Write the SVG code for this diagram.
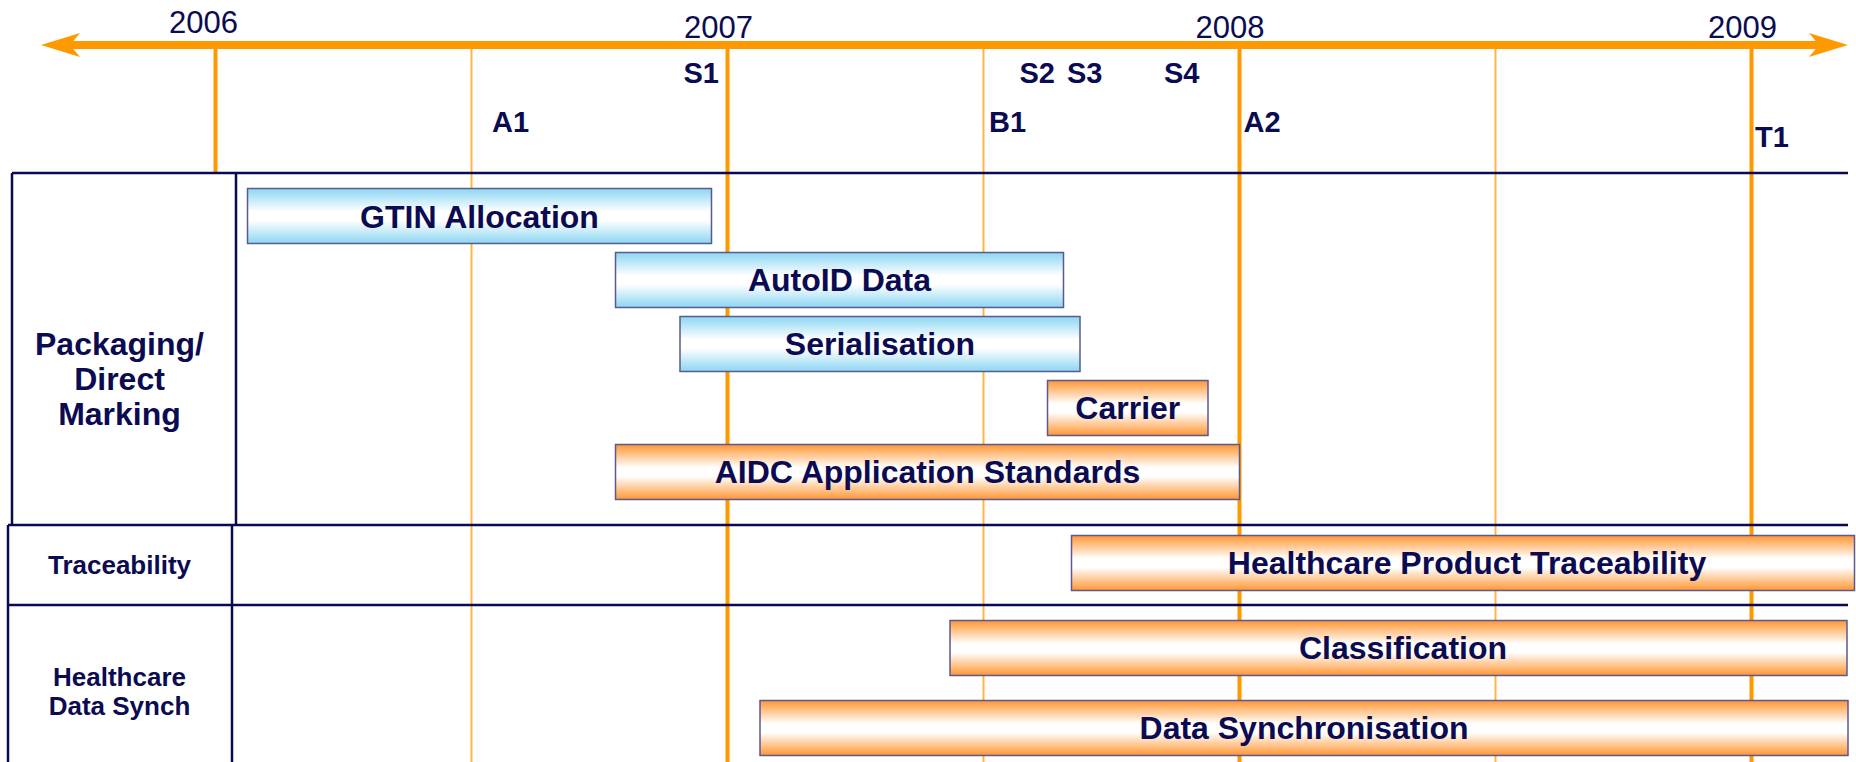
<svg xmlns="http://www.w3.org/2000/svg" width="1856" height="762" viewBox="0 0 1856 762">
<defs>
<linearGradient id="gBlue" x1="0" y1="0" x2="0" y2="1">
<stop offset="0" stop-color="#8CD6F3"/>
<stop offset="0.42" stop-color="#FFFFFF"/>
<stop offset="0.58" stop-color="#FFFFFF"/>
<stop offset="1" stop-color="#8CD6F3"/>
</linearGradient>
<linearGradient id="gOrange" x1="0" y1="0" x2="0" y2="1">
<stop offset="0" stop-color="#FF9633"/>
<stop offset="0.42" stop-color="#FFFFFF"/>
<stop offset="0.58" stop-color="#FFFFFF"/>
<stop offset="1" stop-color="#FF9633"/>
</linearGradient>
</defs>
<style>
.yr{stroke:#FF9900;stroke-width:4;fill:none}
.hy{stroke:#FFB547;stroke-width:2;fill:none}
.nv{stroke:#0A0A50;stroke-width:2.5;fill:none}
.blue{fill:url(#gBlue);stroke:#5A5A8E;stroke-width:1.5}
.orange{fill:url(#gOrange);stroke:#5A5A8E;stroke-width:1.5}
text{font-family:"Liberation Sans",Arial,sans-serif;fill:#0B0B52}
.year{font-size:31px;text-anchor:middle}
.ms{font-size:29px;font-weight:bold}
.bar{font-size:32px;font-weight:bold;text-anchor:middle}
.cat{font-size:32px;font-weight:bold;text-anchor:middle}
.cat2{font-size:26px;font-weight:bold;text-anchor:middle}
</style>
<rect width="1856" height="762" fill="#FFFFFF"/>

<g id="grid">
<line class="yr" x1="215.5" y1="49" x2="215.5" y2="173"/>
<line class="hy" x1="471.5" y1="49" x2="471.5" y2="762"/>
<line class="yr" x1="727.5" y1="49" x2="727.5" y2="762"/>
<line class="hy" x1="983.5" y1="49" x2="983.5" y2="762"/>
<line class="yr" x1="1239.5" y1="49" x2="1239.5" y2="762"/>
<line class="hy" x1="1495.5" y1="49" x2="1495.5" y2="762"/>
<line class="yr" x1="1751.5" y1="49" x2="1751.5" y2="762"/>
</g>

<g id="table">
<line class="nv" x1="12" y1="173" x2="1848" y2="173"/>
<line class="nv" x1="12" y1="173" x2="12" y2="525"/>
<line class="nv" x1="236" y1="173" x2="236" y2="525"/>
<line class="nv" x1="8" y1="525" x2="1848" y2="525"/>
<line class="nv" x1="8" y1="605" x2="1848" y2="605"/>
<line class="nv" x1="8" y1="525" x2="8" y2="762"/>
<line class="nv" x1="232" y1="525" x2="232" y2="762"/>
</g>

<g id="axis">
<line x1="66" y1="45" x2="1824" y2="45" stroke="#FF9900" stroke-width="8"/>
<polygon points="41,45 80,33 70,45 80,57" fill="#FF9900"/>
<polygon points="1848,45 1809,33 1819,45 1809,57" fill="#FF9900"/>
<text class="year" x="203.5" y="33">2006</text>
<text class="year" x="718.5" y="38">2007</text>
<text class="year" x="1230" y="38">2008</text>
<text class="year" x="1742.5" y="38">2009</text>
</g>

<g id="milestones">
<text class="ms" x="683.5" y="83">S1</text>
<text class="ms" x="1019.5" y="83" word-spacing="4">S2 S3</text>
<text class="ms" x="1164" y="83">S4</text>
<text class="ms" x="492" y="131.5">A1</text>
<text class="ms" x="989" y="131.5">B1</text>
<text class="ms" x="1243.5" y="131.5">A2</text>
<text class="ms" x="1755" y="146.5">T1</text>
</g>

<g id="cat-packaging">
<text class="cat" x="119.5" y="355">Packaging/</text>
<text class="cat" x="119.5" y="390">Direct</text>
<text class="cat" x="119.5" y="424.5">Marking</text>
</g>
<g id="cat-traceability">
<text class="cat2" x="119.5" y="574">Traceability</text>
</g>
<g id="cat-datasynch">
<text class="cat2" x="119.5" y="685.5">Healthcare</text>
<text class="cat2" x="119.5" y="714.5">Data Synch</text>
</g>

<g id="gtin">
<rect class="blue" x="247.5" y="188.5" width="464" height="55"/>
<text class="bar" x="479.5" y="228">GTIN Allocation</text>
</g>
<g id="autoid">
<rect class="blue" x="615.5" y="252.5" width="448" height="55"/>
<text class="bar" x="839.5" y="291">AutoID Data</text>
</g>
<g id="serialisation">
<rect class="blue" x="680" y="316.5" width="400" height="55"/>
<text class="bar" x="880" y="355">Serialisation</text>
</g>
<g id="carrier">
<rect class="orange" x="1047.5" y="380.5" width="160.5" height="55"/>
<text class="bar" x="1127.8" y="419">Carrier</text>
</g>
<g id="aidc">
<rect class="orange" x="615.5" y="444.5" width="624" height="55"/>
<text class="bar" x="927.5" y="482.5">AIDC Application Standards</text>
</g>
<g id="traceability">
<rect class="orange" x="1071.5" y="535.5" width="783" height="55"/>
<text class="bar" x="1467" y="573.5">Healthcare Product Traceability</text>
</g>
<g id="classification">
<rect class="orange" x="950" y="620.5" width="897" height="55"/>
<text class="bar" x="1403" y="658.5">Classification</text>
</g>
<g id="datasync">
<rect class="orange" x="760" y="700.5" width="1088" height="55"/>
<text class="bar" x="1304" y="738.5">Data Synchronisation</text>
</g>
</svg>
